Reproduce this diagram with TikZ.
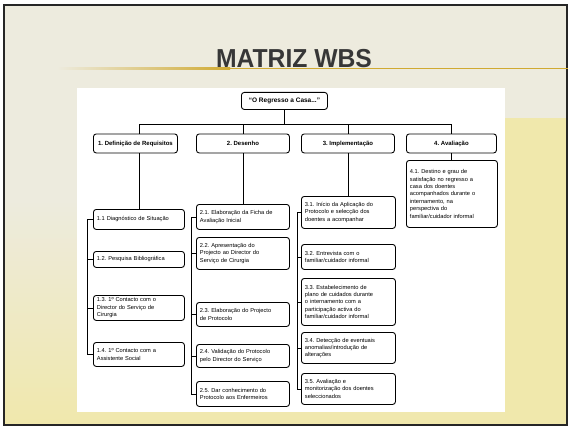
\documentclass[tikz,border=0pt]{standalone}
\usepackage{fontspec}
\setmainfont{Liberation Sans}
\frenchspacing
\definecolor{slidebg}{RGB}{237,235,222}
\definecolor{slideyel}{RGB}{240,232,172}
\definecolor{goldline}{RGB}{208,170,50}
\definecolor{titlegray}{RGB}{55,55,55}
\newcommand\wbsbox[6]{%
  \pgfmathsetmacro\wbW{#4-#2}%
  \pgfmathsetmacro\wbH{#5-#3}%
  \pgfmathsetmacro\wbT{#4-#2-7}%
  \node[subbox, minimum width=\wbW pt, minimum height=\wbH pt, text width=\wbT pt] (#1) at (#2,#3) {#6};}
\newcommand\wbstop[6]{%
  \pgfmathsetmacro\wbW{#4-#2}%
  \pgfmathsetmacro\wbH{#5-#3}%
  \node[topbox, minimum width=\wbW pt, minimum height=\wbH pt] (#1) at (#2,#3) {#6};}
\begin{document}
\begin{tikzpicture}[x=1pt,y=-1pt,
  boxbase/.style={draw=black, line width=0.9pt, rounded corners=2.8pt, fill=white, anchor=north west, inner ysep=1pt},
  subbox/.style={boxbase, inner xsep=3.5pt, align=left, font=\fontsize{5.7}{7.4}\selectfont},
  topbox/.style={boxbase, inner xsep=1pt, align=center, font=\fontsize{6}{7}\selectfont\bfseries},
  conn/.style={draw=black, line width=0.9pt}]
\useasboundingbox (0,0) rectangle (568,428);
% slide background
\fill[white] (0,0) rectangle (568,428);
\fill[slidebg] (4,5) rectangle (567,425);
\shade[top color=slidebg, bottom color=slideyel] (4,200) rectangle (567,425);
\fill[slideyel] (505,118) rectangle (567,425);
\draw[line width=1.6pt, black!85] (4,5) rectangle (567,425);
% gold rule and title
\shade[left color=slidebg, right color=goldline, shading angle=90] (57,67.8) rectangle (230,69.4);
\fill[goldline] (229.5,67.8) rectangle (568,69.4);
\node[font=\fontsize{26}{26}\selectfont\bfseries, text=titlegray, anchor=base, inner sep=0pt] (title) at (294,67) {\scalebox{0.95}[1]{MATRIZ WBS}};
% white panel
\fill[white] (77,88) rectangle (505,412);
% root and level 1
\wbstop{root}{241}{92}{327}{109}{\fontsize{6.5}{7}\selectfont “O Regresso a Casa...”}
\wbstop{l1}{93}{133.5}{177}{152.5}{1. Definição de Requisitos}
\wbstop{l2}{196}{133.5}{289}{152.5}{2. Desenho}
\wbstop{l3}{301}{133.5}{394}{152.5}{3. Implementação}
\wbstop{l4}{406}{133.5}{496}{152.5}{4. Avaliação}
% column 1
\wbsbox{s11}{93}{209}{184}{229}{1.1 Diagnóstico de Situação}
\wbsbox{s12}{93}{251}{184}{267}{\centering 1.2. Pesquisa Bibliográfica}
\wbsbox{s13}{93}{295}{184}{320}{1.3. 1º Contacto com o\\Director do Serviço de\\Cirurgia}
\wbsbox{s14}{93}{342}{184}{366}{1.4. 1º Contacto com a\\Assistente Social}
% column 2
\wbsbox{s21}{196}{204}{289}{229}{2.1. Elaboração da Ficha de\\Avaliação Inicial}
\wbsbox{s22}{196}{237}{289}{269}{2.2. Apresentação do\\Projecto ao Director do\\Serviço de Cirurgia}
\wbsbox{s23}{196}{302}{289}{326}{2.3. Elaboração do Projecto\\de Protocolo}
\wbsbox{s24}{196}{344}{289}{367}{2.4. Validação do Protocolo\\pelo Director do Serviço}
\wbsbox{s25}{196}{381}{289}{406}{2.5. Dar conhecimento do\\Protocolo aos Enfermeiros}
% column 3
\wbsbox{s31}{301}{196}{395}{228}{3.1. Início da Aplicação do\\Protocolo e selecção dos\\doentes a acompanhar}
\wbsbox{s32}{301}{244}{395}{269}{3.2. Entrevista com o\\familiar/cuidador informal}
\wbsbox{s33}{301}{278}{395}{325}{3.3. Estabelecimento de\\plano de cuidados durante\\o internamento com a\\participação activa do\\familiar/cuidador informal}
\wbsbox{s34}{301}{332}{395}{363}{3.4. Detecção de eventuais\\anomalias/introdução de\\alterações}
\wbsbox{s35}{301}{373}{395}{404}{3.5. Avaliação e\\monitorização dos doentes\\seleccionados}
% column 4
\wbsbox{s41}{406}{160}{497}{227}{4.1. Destino e grau de\\satisfação no regresso a\\casa dos doentes\\acompanhados durante o\\internamento, na\\perspectiva do\\familiar/cuidador informal}
% connectors
\coordinate (bus) at (0,124);
\coordinate (b1) at (87,0);
\coordinate (b2) at (191,0);
\coordinate (b3) at (297,0);
\draw[conn] (root.south) -- (root.south |- bus);
\draw[conn] (s11.north |- l1.north) -- (s11.north |- bus) -- (l4.north |- bus) -- (l4.north);
\draw[conn] (l2.north) -- (l2.north |- bus);
\draw[conn] (l3.north) -- (l3.north |- bus);
\draw[conn] (s11.north |- l1.south) -- (s11.north);
\draw[conn] (l2.south) -- (l2.south |- s21.north);
\draw[conn] (s31.north |- l3.south) -- (s31.north);
\draw[conn] (l4.south) -- (l4.south |- s41.north);
% brackets
\draw[conn] (s11.west) -- (s11.west -| b1) -- (s14.west -| b1) -- (s14.west);
\draw[conn] (s12.west) -- (s12.west -| b1);
\draw[conn] (s13.west) -- (s13.west -| b1);
\draw[conn] (s21.west) -- (s21.west -| b2) -- (s25.west -| b2) -- (s25.west);
\draw[conn] (s22.west) -- (s22.west -| b2);
\draw[conn] (s23.west) -- (s23.west -| b2);
\draw[conn] (s24.west) -- (s24.west -| b2);
\draw[conn] (s31.west) -- (s31.west -| b3) -- (s35.west -| b3) -- (s35.west);
\draw[conn] (s32.west) -- (s32.west -| b3);
\draw[conn] (s33.west) -- (s33.west -| b3);
\draw[conn] (s34.west) -- (s34.west -| b3);
\end{tikzpicture}
\end{document}
